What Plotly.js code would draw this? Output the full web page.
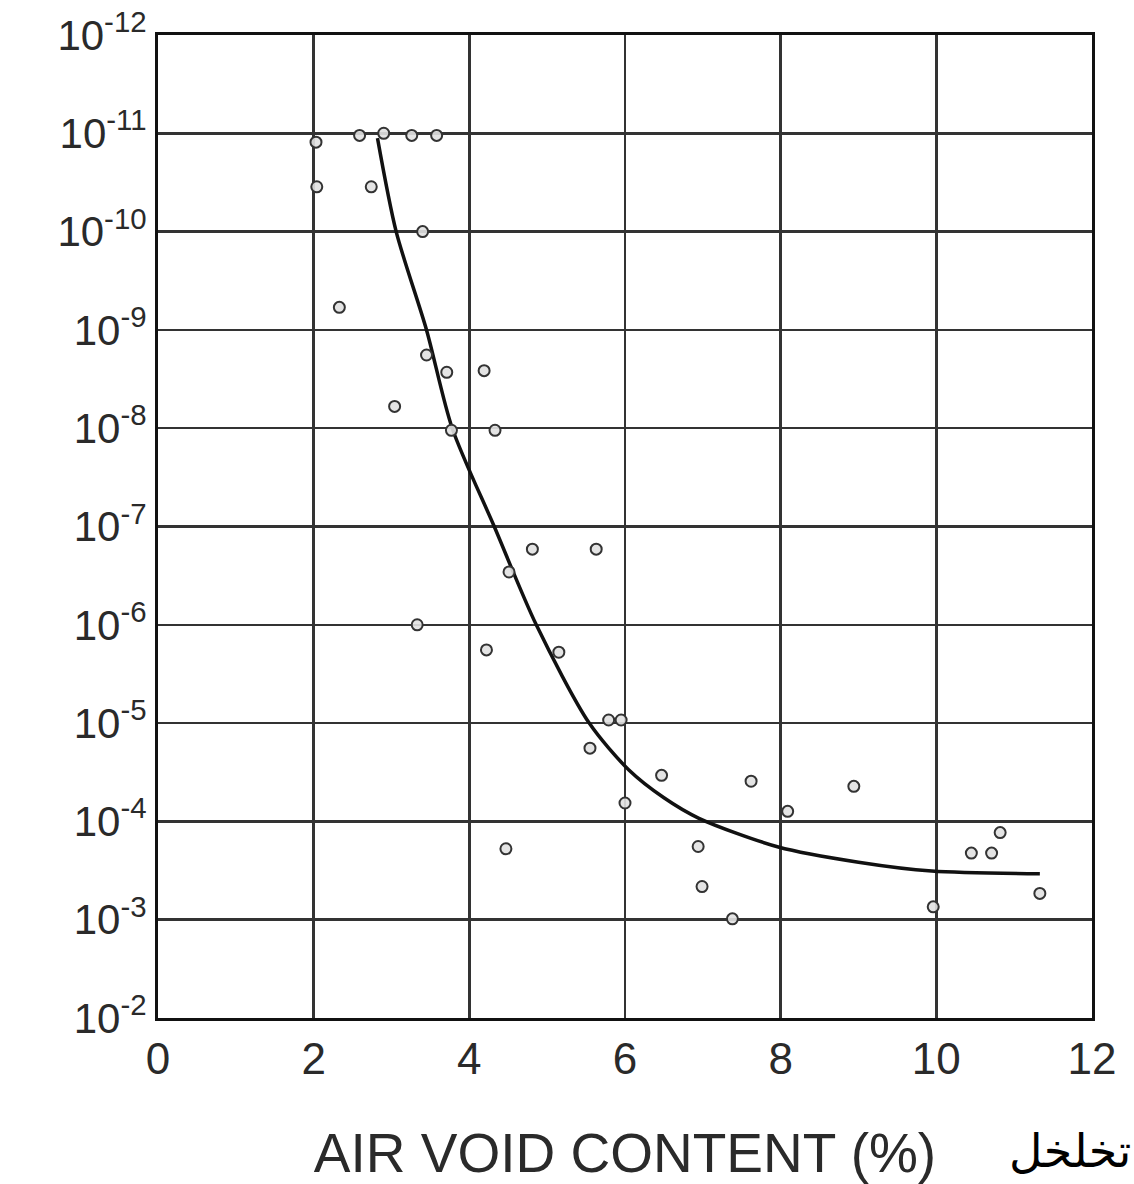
<!DOCTYPE html>
<html>
<head>
<meta charset="utf-8">
<script src="https://cdn.plot.ly/plotly-3.0.1.min.js"></script>
<style>
  html, body { margin: 0; padding: 0; background: #ffffff; }
  #chart { width: 1134px; height: 1184px; }
</style>
</head>
<body>
<div id="chart"></div>
<script>
// Measured points: air void content (%) vs. value (log axis, reversed)
const airVoid = [2.03, 2.59, 2.90, 3.26, 3.58, 2.04, 2.74, 3.40, 2.33, 3.45,
                 3.71, 4.19, 3.04, 3.77, 4.33, 4.81, 5.63, 4.51, 3.33, 4.22,
                 5.15, 5.79, 5.95, 5.55, 6.47, 7.62, 8.94, 6.00, 8.09, 6.94,
                 6.99, 7.38, 4.47, 10.82, 10.45, 10.71, 11.33, 9.96];
const measured = [1.23e-11, 1.05e-11, 1.0e-11, 1.05e-11, 1.05e-11, 3.5e-11, 3.5e-11, 1.0e-10, 5.9e-10, 1.8e-9,
                  2.7e-9, 2.6e-9, 6.0e-9, 1.05e-8, 1.05e-8, 1.7e-7, 1.7e-7, 2.9e-7, 1.0e-6, 1.8e-6,
                  1.9e-6, 9.3e-6, 9.3e-6, 1.8e-5, 3.4e-5, 3.9e-5, 4.4e-5, 6.5e-5, 7.9e-5, 1.8e-4,
                  4.6e-4, 9.8e-4, 1.9e-4, 1.3e-4, 2.1e-4, 2.1e-4, 5.4e-4, 7.4e-4];

// Fitted trend curve
const curveX = [2.82, 3.06, 3.45, 3.78, 4.32, 4.86, 5.54, 6.05, 6.50, 6.95, 7.97, 9.00, 9.94, 11.33];
const curveY = [1.12e-11, 1.0e-10, 1.0e-9, 1.0e-8, 1.0e-7, 1.0e-6, 1.0e-5, 3.0e-5, 5.75e-5, 9.3e-5, 1.82e-4, 2.6e-4, 3.2e-4, 3.4e-4];

// Tick labels
const xTicks = [0, 2, 4, 6, 8, 10, 12];
const yTickVals = [1e-12, 1e-11, 1e-10, 1e-9, 1e-8, 1e-7, 1e-6, 1e-5, 1e-4, 1e-3, 1e-2];
const yTickText = ['10<sup>-12</sup>', '10<sup>-11</sup>', '10<sup>-10</sup>', '10<sup>-9</sup>', '10<sup>-8</sup>',
                   '10<sup>-7</sup>', '10<sup>-6</sup>', '10<sup>-5</sup>', '10<sup>-4</sup>', '10<sup>-3</sup>', '10<sup>-2</sup>'];
const xTitle = 'AIR VOID CONTENT (%)';
const sideNote = 'تخلخل';

const traces = [
  {
    x: curveX, y: curveY, type: 'scatter', mode: 'lines',
    line: { color: '#111111', width: 3.5, shape: 'spline', smoothing: 0.8 },
    hoverinfo: 'skip', showlegend: false
  },
  {
    x: airVoid, y: measured, type: 'scatter', mode: 'markers',
    marker: { symbol: 'circle', size: 11, color: 'rgba(225,225,225,0.9)', line: { color: '#333333', width: 2 } },
    showlegend: false
  }
];

const layout = {
  width: 1134, height: 1184,
  margin: { l: 158, r: 42, t: 35, b: 166 },
  paper_bgcolor: '#ffffff', plot_bgcolor: '#ffffff',
  font: { family: 'Liberation Sans, Arial, sans-serif', color: '#222222' },
  showlegend: false,
  xaxis: {
    range: [0, 12], tickvals: xTicks, ticktext: xTicks.map(String),
    showgrid: true, gridcolor: '#333333', gridwidth: 2.5,
    zeroline: false, showline: true, linecolor: '#111111', linewidth: 3, mirror: true,
    ticks: '', tickfont: { size: 44, color: '#2a2a2a' },
    title: { text: xTitle, font: { size: 55, color: '#2a2a2a' }, standoff: 58 }
  },
  yaxis: {
    type: 'log', range: [-2, -12],
    tickvals: yTickVals, ticktext: yTickText,
    showgrid: true, gridcolor: '#333333', gridwidth: 2.5,
    zeroline: false, showline: true, linecolor: '#111111', linewidth: 3, mirror: true,
    ticks: '', tickfont: { size: 42, color: '#2a2a2a' }
  },
  shapes: [
    { type: 'line', xref: 'paper', x0: 0, x1: 1, yref: 'y', y0: -8, y1: -8,
      line: { color: '#2a2a2a', width: 4 } }
  ],
  annotations: [
    { text: sideNote, xref: 'paper', yref: 'paper', x: 1.044, y: -0.135,
      xanchor: 'right', yanchor: 'middle', showarrow: false,
      font: { family: 'DejaVu Sans, Noto Sans, sans-serif', size: 46, color: '#000000' } }
  ]
};

Plotly.newPlot('chart', traces, layout, { staticPlot: true, displayModeBar: false });
</script>
</body>
</html>
